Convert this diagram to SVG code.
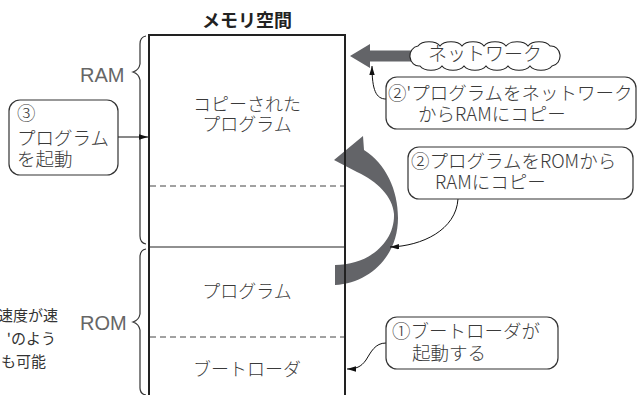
<svg xmlns="http://www.w3.org/2000/svg" width="637" height="395" viewBox="0 0 637 395">
<style>
.t{font-family:"Noto Sans CJK JP","Liberation Sans",sans-serif;fill:#3a3a3a;font-weight:300;}
.m{font-size:18px;}
.b{font-size:18.5px;}
.n{font-family:"Noto Sans CJK JP",sans-serif;fill:#333;font-size:15px;}
.lat{font-family:"Liberation Sans","Noto Sans CJK JP",sans-serif;fill:#666;font-size:20px;}
.box{fill:#fff;stroke:#333;stroke-width:1.2;}
.mem{fill:none;stroke:#222;stroke-width:2;}
.dash{stroke:#444;stroke-width:1;stroke-dasharray:6 4;fill:none;}
.brace{fill:none;stroke:#333;stroke-width:1.2;}
.con{fill:none;stroke:#111;stroke-width:1;}
.big{fill:#636468;}
</style>
<defs>
<marker id="ah" viewBox="0 0 10 6" refX="10" refY="3" markerWidth="9" markerHeight="5.5" orient="auto" markerUnits="userSpaceOnUse">
<path d="M0,0 L10,3 L0,6 Z" fill="#111"/>
</marker>
</defs>

<text x="247" y="27" font-family="Noto Sans CJK JP, sans-serif" font-size="18" font-weight="bold" fill="#222" text-anchor="middle">メモリ空間</text>

<g id="big-arrow">
<path class="big" d="M335,285 C370,283 398,256 398,218 C398,190 386,164 364,150 L363,136 L334,160 L357,172 C377,181 393,197 394,214 C395,243 368,265 335,265 Z"/>
</g>

<g id="memory">
<path class="mem" d="M149,395 L149,35 L345,35 L345,395"/>
<line class="dash" x1="150" y1="186" x2="344" y2="186"/>
<line x1="150" y1="247" x2="344" y2="247" stroke="#222" stroke-width="1.2"/>
<line class="dash" x1="150" y1="337" x2="344" y2="337"/>
<text class="t m" x="247" y="111" text-anchor="middle">コピーされた</text>
<text class="t m" x="247" y="131" text-anchor="middle">プログラム</text>
<text class="t m" x="247" y="298" text-anchor="middle">プログラム</text>
<text class="t m" x="247" y="376" text-anchor="middle">ブートローダ</text>
</g>

<g id="ram-brace">
<path class="brace" d="M146,36 Q140,37 140,44 L140,64 Q139,70 133,72 Q139,74 140,80 L140,236 Q140,243 146,244"/>
<text class="lat" x="80" y="82">RAM</text>
</g>
<g id="rom-brace">
<path class="brace" d="M146,249 Q140,250 140,257 L140,314 Q139,320 133,322 Q139,324 140,330 L140,388 Q140,394 146,395"/>
<text class="lat" x="80" y="330">ROM</text>
</g>

<g id="side-note">
<text class="n" x="58" y="321" text-anchor="end">速度が速</text>
<text class="n" x="56" y="344" text-anchor="end">'のよう</text>
<text class="n" x="46" y="367" text-anchor="end">も可能</text>
</g>

<g id="net-arrow">
<path class="big" d="M414,50.5 L370,50.5 L370,44 L350,56 L370,68 L370,61.5 L414,61.5 Z"/>
</g>

<g id="cloud">
<path fill="#fff" stroke="#222" stroke-width="1.1" d="M418,46 a12,7 0 0 1 22,0 a12,7 0 0 1 22,0 a12,7 0 0 1 22,0 a12,7 0 0 1 22,0 a12,7 0 0 1 22,0 a12,7 0 0 1 22,0 a9,10 0 0 1 2,20 a12,7 0 0 1 -22,0 a12,7 0 0 1 -22,0 a12,7 0 0 1 -22,0 a12,7 0 0 1 -22,0 a12,7 0 0 1 -22,0 a12,7 0 0 1 -22,0 a9,10 0 0 1 -2,-20 Z"/>
<text class="t" font-size="19" x="485" y="61" text-anchor="middle">ネットワーク</text>
</g>

<g id="connectors">
<line class="con" x1="118" y1="137" x2="148" y2="137" marker-end="url(#ah)"/>
<path class="con" d="M386,99 C376,99 372,90 372,66" marker-end="url(#ah)"/>
<path class="con" d="M458,199 C456,230 422,246 390,247" marker-end="url(#ah)"/>
<path class="con" d="M386,343 C375,343 371,352 366,360 C361,367 356,369 347,369" marker-end="url(#ah)"/>
</g>

<g id="step3">
<rect class="box" x="9" y="100" width="109" height="75" rx="11"/>
<text class="t b" x="17" y="120">③</text>
<text class="t b" x="17" y="145">プログラム</text>
<text class="t b" x="17" y="166">を起動</text>
</g>

<g id="step2b">
<rect class="box" x="386" y="77" width="250" height="52" rx="11"/>
<text class="t b" x="388" y="100">②'プログラムをネットワーク</text>
<text class="t b" x="418" y="121">からRAMにコピー</text>
</g>

<g id="step2">
<rect class="box" x="408" y="147" width="225" height="52" rx="11"/>
<text class="t b" x="411" y="168">②プログラムをROMから</text>
<text class="t b" x="435" y="189">RAMにコピー</text>
</g>

<g id="step1">
<rect class="box" x="386" y="317" width="172" height="52" rx="11"/>
<text class="t b" x="392" y="338">①ブートローダが</text>
<text class="t b" x="412" y="360">起動する</text>
</g>
</svg>
